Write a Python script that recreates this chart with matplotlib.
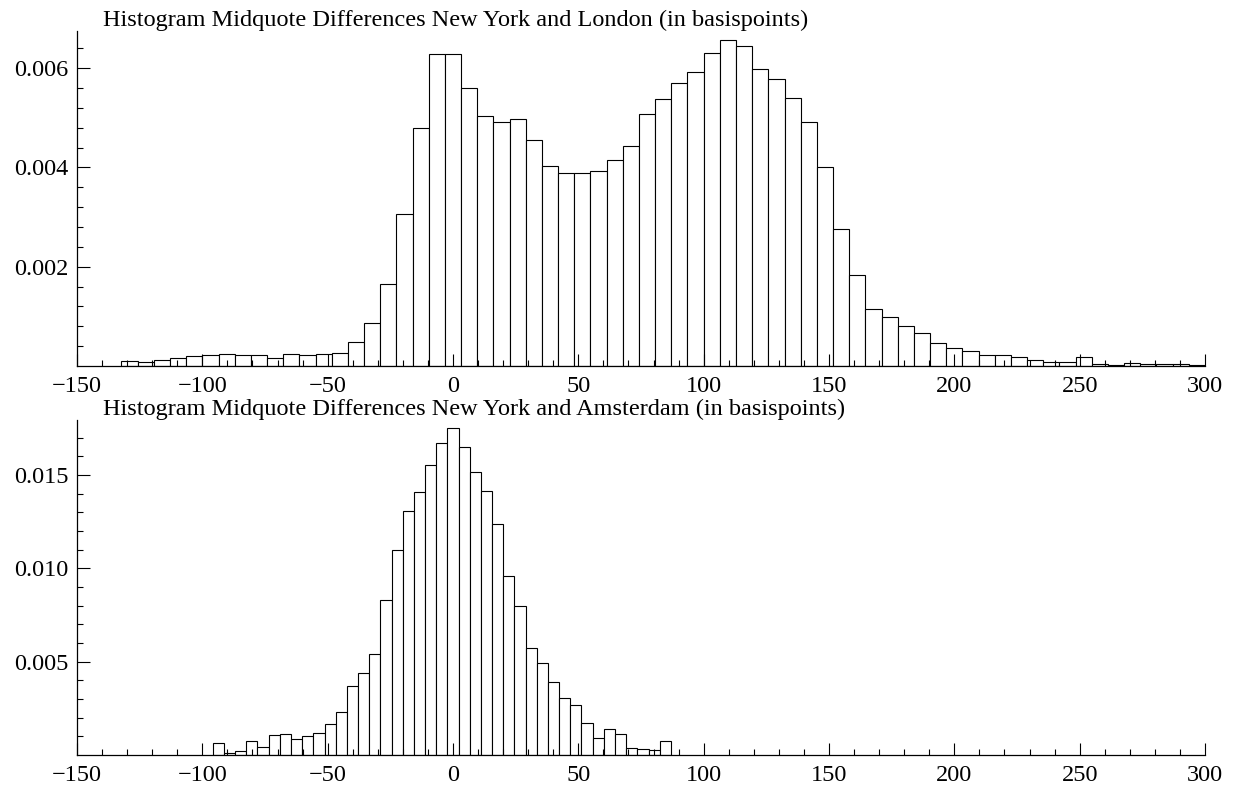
import numpy as np
import matplotlib
matplotlib.use("Agg")
import matplotlib.pyplot as plt
from matplotlib.ticker import MultipleLocator, FixedLocator

plt.rcParams['font.family'] = ['Liberation Serif', 'DejaVu Serif']

# New York - London: bins of width w, bin k covers [(k-0.5)w, (k+0.5)w]
london_width = 300 / 46.5
london_first_bin = -20
london_density = [
    0.000094, 0.000081, 0.000114, 0.000168, 0.000195, 0.000222, 0.000249,
    0.000222, 0.000215, 0.000168, 0.000249, 0.000229, 0.000235, 0.000255,
    0.000491, 0.000861, 0.001647, 0.003059, 0.004793, 0.006279, 0.006279,
    0.005593, 0.005029, 0.004908, 0.004968, 0.004545, 0.004034, 0.003886,
    0.003892, 0.003933, 0.004141, 0.004437, 0.005076, 0.005371, 0.005694,
    0.005916, 0.006313, 0.006561, 0.006440, 0.005983, 0.005782, 0.005392,
    0.004908, 0.004007, 0.002756, 0.001835, 0.001150, 0.000995, 0.000800,
    0.000659, 0.000471, 0.000363, 0.000303, 0.000215, 0.000215, 0.000175,
    0.000128, 0.000087, 0.000074, 0.000175, 0.000034, 0.000027, 0.000054,
    0.000034, 0.000034, 0.000040, 0.000020,
]

# New York - Amsterdam
amsterdam_width = 4.457
amsterdam_first_bin = -21
amsterdam_density = [
    0.000660, 0.000107, 0.000196, 0.000767, 0.000428, 0.001052, 0.001124,
    0.000838, 0.000999, 0.001195, 0.001659, 0.002301, 0.003710, 0.004388,
    0.005423, 0.008277, 0.010970, 0.013093, 0.014074, 0.015555, 0.016714,
    0.017499, 0.016518, 0.015162, 0.014128, 0.012362, 0.009561, 0.007991,
    0.005708, 0.004923, 0.003907, 0.003050, 0.002694, 0.001695, 0.000910,
    0.001391, 0.001124, 0.000392, 0.000339, 0.000268, 0.000767,
]

titles = [
    "Histogram Midquote Differences New York and London (in basispoints)",
    "Histogram Midquote Differences New York and Amsterdam (in basispoints)",
]
x_ticks = [-150, -100, -50, 0, 50, 100, 150, 200, 250, 300]
x_labels = ["\u2212150", "\u2212100", "\u221250", "0", "50", "100", "150",
            "200", "250", "300"]
london_yticks = [0.002, 0.004, 0.006]
london_ylabels = ["0.002", "0.004", "0.006"]
amsterdam_yticks = [0.005, 0.010, 0.015]
amsterdam_ylabels = ["0.005", "0.010", "0.015"]

W, H = 1234, 792
FS = 17.5
fig = plt.figure(figsize=(W / 100, H / 100), dpi=100)

def panel(top_px, width, first_bin, dens, ytop, yticks, ylabels, yminor, title):
    ax = fig.add_axes([77 / W, 1 - (top_px + 335) / H, 1128 / W, 335 / H])
    k = np.arange(first_bin, first_bin + len(dens))
    ax.bar(k * width, dens, width=width, color="white", edgecolor="black",
           linewidth=0.8, zorder=1)
    ax.set_xlim(-150, 300)
    ax.set_ylim(0, ytop)
    for s in ["top", "right"]:
        ax.spines[s].set_visible(False)
    for s in ["left", "bottom"]:
        ax.spines[s].set_linewidth(0.9)
        ax.spines[s].set_zorder(3)
    ax.set_xticks(x_ticks)
    ax.set_xticklabels(x_labels)
    ax.xaxis.set_minor_locator(MultipleLocator(10))
    ax.set_yticks(yticks)
    ax.set_yticklabels(ylabels)
    ax.yaxis.set_minor_locator(FixedLocator(yminor))
    ax.tick_params(which="major", direction="in", length=9, width=0.8,
                   labelsize=FS, color="black")
    ax.tick_params(which="minor", direction="in", length=4.5, width=0.8,
                   color="black")
    ax.tick_params(axis="x", which="both", pad=7)
    ax.tick_params(axis="y", which="both", pad=6)
    ax.patch.set_alpha(0)
    fig.text(103 / W, 1 - (top_px - 5) / H, title, fontsize=FS,
             ha="left", va="baseline")
    return ax

panel(31, london_width, london_first_bin, london_density, 0.00675,
      london_yticks, london_ylabels, np.arange(0.0004, 0.0067, 0.0004), titles[0])
panel(420, amsterdam_width, amsterdam_first_bin, amsterdam_density, 0.01794,
      amsterdam_yticks, amsterdam_ylabels, np.arange(0.001, 0.0179, 0.001), titles[1])

fig.savefig("out.png", dpi=100, facecolor="white")
